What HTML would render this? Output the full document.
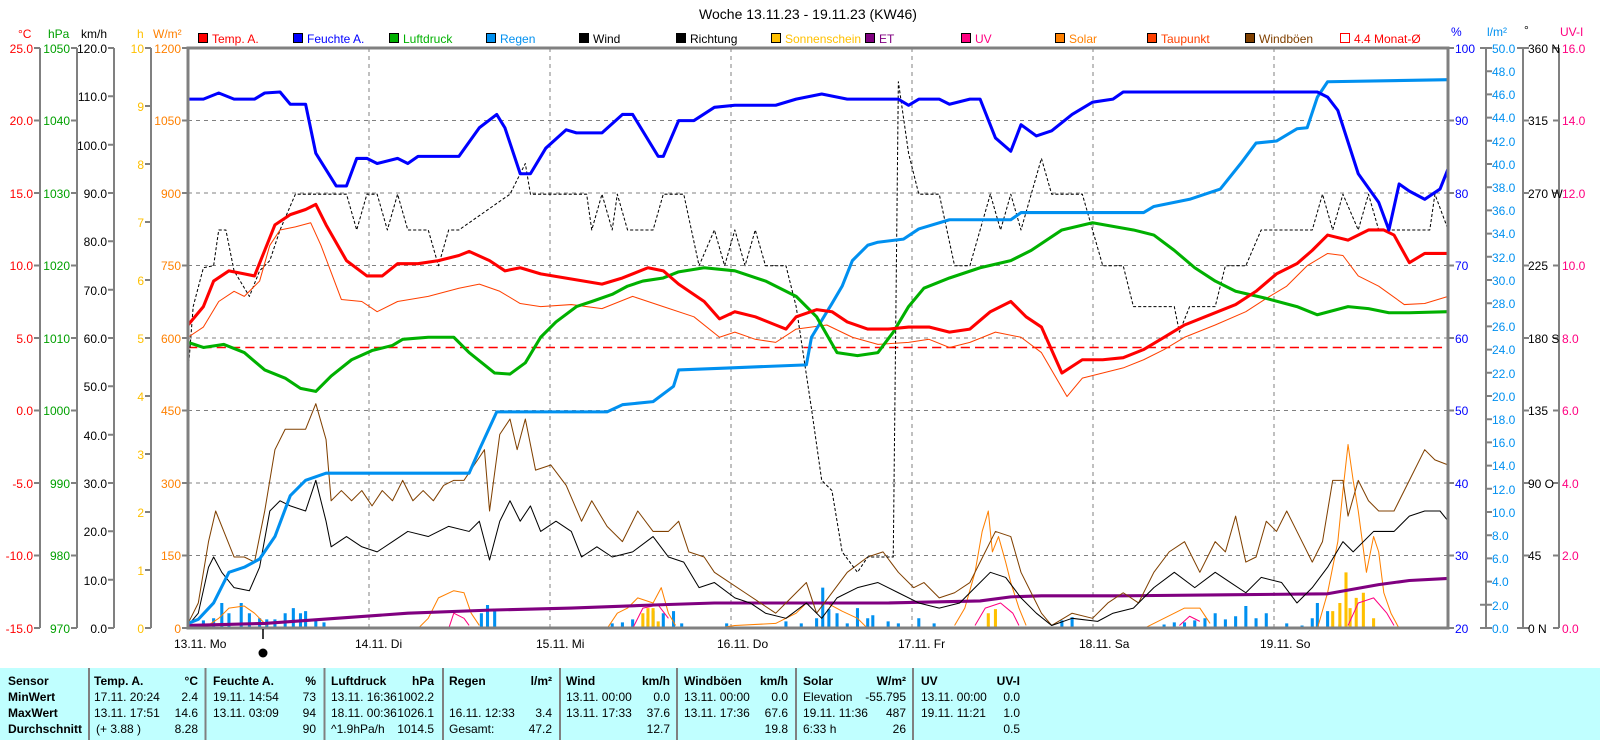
<!DOCTYPE html>
<html><head><meta charset="utf-8"><style>
html,body{margin:0;padding:0;background:#fff;}
svg{display:block;font-family:"Liberation Sans",sans-serif;}
</style></head><body>
<svg width="1600" height="740" viewBox="0 0 1600 740" xmlns="http://www.w3.org/2000/svg">
<rect width="1600" height="740" fill="#fff"/>
<text x="808" y="19" font-size="14" text-anchor="middle" fill="#000">Woche 13.11.23 - 19.11.23 (KW46)</text>

<g stroke="#808080" stroke-width="1" stroke-dasharray="4,4" fill="none">
<line x1="188" y1="120.5" x2="1448" y2="120.5"/><line x1="188" y1="193" x2="1448" y2="193"/>
<line x1="188" y1="265.5" x2="1448" y2="265.5"/><line x1="188" y1="338" x2="1448" y2="338"/>
<line x1="188" y1="410.5" x2="1448" y2="410.5"/><line x1="188" y1="483" x2="1448" y2="483"/>
<line x1="188" y1="555.5" x2="1448" y2="555.5"/>
<line x1="369" y1="48" x2="369" y2="628"/><line x1="550" y1="48" x2="550" y2="628"/>
<line x1="731" y1="48" x2="731" y2="628"/><line x1="912" y1="48" x2="912" y2="628"/>
<line x1="1093" y1="48" x2="1093" y2="628"/><line x1="1274" y1="48" x2="1274" y2="628"/>
</g>

<g transform="translate(-1,0) scale(1.022)" fill="none" stroke-linejoin="round">
<line x1="185" y1="340" x2="1417" y2="340" stroke="#ff0000" stroke-width="1.5" stroke-dasharray="9,5"/>
<g stroke="#0090f0" stroke-width="3">
<path d="M200 615V607M210 615V605M218 615V590M225 615V600M237 615V590M245 615V600M255 615V605M262 615V606M270 615V606M280 615V600M288 615V595M295 615V600M300 615V598M310 615V607M318 615V609M472 615V600M478 615V592M485 615V596M600 615V610M610 615V609M620 615V606M635 615V605M640 615V598M650 615V600M660 615V598M668 615V610M712 615V610M770 615V608M785 615V610M800 615V605M806 615V575M812 615V596M820 615V600M830 615V610M840 615V595M850 615V605M855 615V602M870 615V608M880 615V610M900 615V605M915 615V610M1040 615V607M1050 615V604M1140 615V611M1150 615V609M1160 615V609M1170 615V607M1180 615V605M1190 615V600M1200 615V606M1210 615V603M1220 615V593M1230 615V605M1240 615V600M1260 615V610M1275 615V612M1285 615V605M1290 615V590M1300 615V598M1312 615V611"/>
</g>
<g stroke="#ffc000" stroke-width="3">
<path d="M630 615V600M635 615V595M640 615V595M645 615V608M1305 615V598M1312 615V590M1318 615V560M1322 615V595M1328 615V585M1335 615V580M1345 615V605M968 615V600M975 615V596"/>
</g>
<g stroke="#ff8000" stroke-width="1">
<polyline points="200,615 215,605 225,595 240,593 250,600 262,612"/>
<polyline points="410,615 420,605 430,585 445,578 455,580 462,600 470,612"/>
<polyline points="595,615 605,600 615,595 625,585 640,590 648,575 655,600 662,612"/>
<polyline points="700,615 720,612 760,610 780,600 790,590 810,590 825,598 840,605 850,615"/>
<polyline points="935,612 945,595 955,560 962,520 968,500 972,540 978,525 985,550 990,570 998,595 1005,612"/>
<polyline points="1120,615 1140,605 1160,595 1175,595 1185,610"/>
<polyline points="1290,615 1300,580 1310,530 1315,480 1320,435 1325,470 1330,500 1338,560 1345,525 1350,540 1355,580 1362,600 1370,615"/>
</g>
<g stroke="#ff0080" stroke-width="1">
<polyline points="440,615 445,600 455,605 460,612"/>
<polyline points="620,615 630,595 645,592 655,605"/>
<polyline points="955,612 965,595 980,590 992,600 998,612"/>
<polyline points="1155,612 1165,603 1175,608"/>
<polyline points="1320,612 1330,590 1345,585 1358,600 1365,612"/>
</g>
<polyline stroke="#800080" stroke-width="3" points="185,612 260,610 330,605 400,600 480,597 560,595 640,592 700,590 780,590 870,590 960,588 990,584 1020,583 1100,583 1200,582 1300,581 1350,572 1380,568 1418,566"/>
<polyline stroke="#804000" stroke-width="1" points="185,610 195,590 205,530 212,500 220,520 230,545 240,545 250,550 260,500 270,440 280,420 290,420 300,420 310,395 320,430 325,490 335,480 345,490 355,480 365,495 375,480 385,490 395,470 405,490 415,480 425,490 435,475 445,470 455,470 465,455 475,440 480,500 490,425 500,410 507,440 515,410 525,460 540,455 555,475 570,510 580,490 595,515 610,530 625,500 640,520 655,520 665,510 675,540 690,545 700,560 715,570 730,580 745,590 760,600 775,585 790,570 800,600 815,580 830,560 850,545 865,540 880,560 895,575 905,570 920,585 935,580 950,570 965,540 975,520 990,525 1000,560 1010,580 1020,600 1030,612 1050,600 1070,605 1085,590 1100,580 1115,590 1130,560 1145,540 1160,530 1175,560 1190,530 1200,540 1210,505 1220,550 1230,545 1240,510 1250,520 1260,500 1270,520 1285,550 1295,530 1305,470 1315,470 1320,505 1330,470 1340,490 1350,500 1365,500 1380,470 1395,440 1405,450 1418,455"/>
<polyline stroke="#000" stroke-width="1" points="185,612 195,600 205,555 210,545 218,560 230,575 245,578 255,555 265,500 275,490 285,495 300,500 310,470 320,510 325,535 340,525 355,535 370,540 385,530 400,520 420,525 440,515 460,520 470,510 480,548 490,510 500,490 510,510 520,495 530,520 545,510 560,520 570,545 585,535 600,545 620,540 640,525 655,545 670,550 685,575 700,570 720,585 735,590 750,600 770,605 790,590 805,605 820,585 840,575 860,570 880,580 900,590 920,595 940,590 955,575 970,560 985,565 1000,585 1015,600 1030,612 1050,605 1075,608 1090,600 1110,595 1130,575 1150,560 1170,575 1190,560 1205,570 1220,580 1235,565 1255,570 1270,590 1285,575 1300,555 1315,530 1325,540 1345,520 1365,520 1380,505 1395,500 1410,500 1418,510"/>
<polyline stroke="#000" stroke-width="1" stroke-dasharray="3,2" points="185,365 190,300 200,262 210,260 215,225 222,225 230,265 245,290 255,265 265,255 275,225 290,190 330,190 340,190 350,225 360,190 370,190 380,225 390,190 400,225 420,225 430,260 440,225 450,225 500,190 515,160 520,190 575,190 580,225 590,190 600,225 605,190 615,225 640,225 650,190 670,190 685,260 700,225 710,260 720,225 730,260 740,225 750,260 770,260 780,300 795,400 805,470 815,480 825,540 840,560 850,545 875,545 880,80 890,150 900,190 920,190 935,260 950,260 960,225 970,190 980,225 990,190 1000,225 1010,190 1020,155 1030,190 1060,190 1080,260 1100,260 1110,300 1150,300 1155,325 1165,300 1190,300 1200,260 1220,260 1235,225 1285,225 1295,190 1305,225 1315,190 1330,225 1340,190 1350,225 1400,225 1405,190 1418,225"/>
<polyline stroke="#ff4000" stroke-width="1" points="185,330 200,320 215,295 230,285 240,290 255,275 265,240 275,225 290,222 305,218 315,240 335,293 355,295 370,305 390,295 420,290 450,282 470,278 490,285 510,297 530,300 560,298 590,302 620,290 650,300 680,310 705,330 720,325 740,332 760,335 780,322 810,318 835,330 860,337 890,335 910,332 930,340 950,335 975,325 1000,330 1020,345 1045,388 1060,370 1080,365 1100,360 1120,352 1140,342 1160,330 1190,318 1220,305 1240,292 1260,280 1280,260 1300,248 1315,250 1330,270 1350,280 1375,298 1395,297 1418,290"/>
<polyline stroke="#0090f0" stroke-width="3" points="185,610 195,606 210,590 225,560 240,555 255,547 270,525 285,485 300,470 320,463 460,463 470,440 487,403 595,403 610,396 640,393 660,378 665,362 715,360 790,357 795,330 815,297 825,280 835,255 850,240 860,237 885,234 900,224 930,215 990,215 1000,208 1120,208 1130,202 1165,195 1195,185 1215,160 1230,140 1250,138 1270,126 1280,125 1290,95 1300,80 1418,78"/>
<polyline stroke="#00b000" stroke-width="3" points="185,335 200,340 220,337 240,345 260,362 280,370 295,380 310,383 325,368 345,352 365,343 385,338 395,332 420,330 445,330 460,345 485,365 500,366 515,355 530,330 545,315 565,300 580,295 600,288 615,280 630,275 650,272 665,266 690,262 720,265 750,275 780,290 800,310 820,345 840,348 860,345 875,325 890,300 905,282 930,272 960,262 990,255 1010,245 1040,225 1070,218 1110,225 1130,230 1150,245 1170,262 1190,275 1210,285 1240,292 1270,300 1290,308 1320,300 1340,302 1360,306 1380,306 1418,305"/>
<polyline stroke="#ff0000" stroke-width="3" points="185,318 200,300 210,275 225,265 240,268 250,270 260,245 270,220 285,210 300,205 310,200 320,220 340,255 360,270 375,270 390,258 410,258 430,255 450,250 460,246 480,255 495,265 510,262 530,268 560,273 590,278 610,272 635,262 650,265 665,278 690,295 705,312 720,305 740,310 760,318 770,322 780,310 800,303 815,305 830,315 850,322 870,322 890,320 910,320 930,325 950,322 970,305 990,295 1005,310 1020,320 1040,365 1060,352 1080,352 1100,350 1120,342 1140,330 1160,318 1180,310 1210,298 1230,285 1250,268 1270,258 1285,245 1300,230 1320,235 1340,225 1355,225 1365,230 1380,257 1395,248 1418,248"/>
<polyline stroke="#0000ff" stroke-width="3" points="185,97 200,97 215,91 230,97 250,97 260,91 275,90 285,102 300,102 310,150 330,182 340,182 350,155 360,155 370,160 390,155 400,160 410,153 450,153 470,125 487,112 495,125 510,170 520,170 535,145 555,127 565,130 590,130 610,112 620,112 645,153 650,153 665,118 680,118 700,105 720,103 760,103 780,97 805,92 830,97 880,97 890,103 900,97 920,97 930,102 950,97 960,97 975,135 990,148 1000,122 1015,133 1030,128 1050,112 1070,100 1090,97 1100,90 1290,90 1300,95 1310,108 1330,170 1350,198 1360,225 1370,180 1380,187 1395,195 1410,185 1418,165"/>
</g>

<rect x="188" y="48" width="1260" height="580" fill="none" stroke="#808080" stroke-width="3"/>

<g stroke="#808080" stroke-width="2" fill="none">
<path d="M40 48V628M77 48V628M114 48V628M151 48V628"/>
<path d="M34 48H40M34 120.5H40M34 193H40M34 265.5H40M34 338H40M34 410.5H40M34 483H40M34 555.5H40M34 628H40"/>
<path d="M71 48H77M71 120.5H77M71 193H77M71 265.5H77M71 338H77M71 410.5H77M71 483H77M71 555.5H77M71 628H77"/>
<path d="M108 48H114M108 96.3H114M108 144.7H114M108 193H114M108 241.3H114M108 289.7H114M108 338H114M108 386.3H114M108 434.7H114M108 483H114M108 531.3H114M108 579.7H114M108 628H114"/>
<path d="M145 48H151M145 106H151M145 164H151M145 222H151M145 280H151M145 338H151M145 396H151M145 454H151M145 512H151M145 570H151M145 628H151"/>
<path d="M182 48H188M182 120.5H188M182 193H188M182 265.5H188M182 338H188M182 410.5H188M182 483H188M182 555.5H188M182 628H188"/>
<path d="M1448 48H1454M1448 120.5H1454M1448 193H1454M1448 265.5H1454M1448 338H1454M1448 410.5H1454M1448 483H1454M1448 555.5H1454M1448 628H1454"/>
<path d="M1486 48V628M1523 48V628M1559 48V628"/>
<path d="M1480 48H1492M1486 71.2H1492M1486 94.4H1492M1486 117.6H1492M1486 140.8H1492M1486 164H1492M1486 187.2H1492M1486 210.4H1492M1486 233.6H1492M1486 256.8H1492M1486 280H1492M1486 303.2H1492M1486 326.4H1492M1486 349.6H1492M1486 372.8H1492M1486 396H1492M1486 419.2H1492M1486 442.4H1492M1486 465.6H1492M1486 488.8H1492M1486 512H1492M1486 535.2H1492M1486 558.4H1492M1486 581.6H1492M1480 604.8H1492M1480 628H1492"/>
<path d="M1517 48H1529M1523 120.5H1529M1523 193H1529M1523 265.5H1529M1523 338H1529M1523 410.5H1529M1523 483H1529M1523 555.5H1529M1517 628H1529"/>
<path d="M1553 48H1559M1553 120.5H1559M1553 193H1559M1553 265.5H1559M1553 338H1559M1553 410.5H1559M1553 483H1559M1553 555.5H1559M1553 628H1559"/>
</g>
<g font-size="12">
<g fill="#ff0000" text-anchor="end"><text x="33" y="53">25.0</text><text x="33" y="125">20.0</text><text x="33" y="198">15.0</text><text x="33" y="270">10.0</text><text x="33" y="343">5.0</text><text x="33" y="415">0.0</text><text x="33" y="488">-5.0</text><text x="33" y="560">-10.0</text><text x="33" y="633">-15.0</text></g>
<g fill="#00a000" text-anchor="end"><text x="70" y="53">1050</text><text x="70" y="125">1040</text><text x="70" y="198">1030</text><text x="70" y="270">1020</text><text x="70" y="343">1010</text><text x="70" y="415">1000</text><text x="70" y="488">990</text><text x="70" y="560">980</text><text x="70" y="633">970</text></g>
<g fill="#000" text-anchor="end"><text x="107" y="53">120.0</text><text x="107" y="101">110.0</text><text x="107" y="150">100.0</text><text x="107" y="198">90.0</text><text x="107" y="246">80.0</text><text x="107" y="295">70.0</text><text x="107" y="343">60.0</text><text x="107" y="391">50.0</text><text x="107" y="440">40.0</text><text x="107" y="488">30.0</text><text x="107" y="536">20.0</text><text x="107" y="585">10.0</text><text x="107" y="633">0.0</text></g>
<g fill="#ffc000" text-anchor="end"><text x="144" y="53">10</text><text x="144" y="111">9</text><text x="144" y="169">8</text><text x="144" y="227">7</text><text x="144" y="285">6</text><text x="144" y="343">5</text><text x="144" y="401">4</text><text x="144" y="459">3</text><text x="144" y="517">2</text><text x="144" y="575">1</text><text x="144" y="633">0</text></g>
<g fill="#ff8000" text-anchor="end"><text x="181" y="53">1200</text><text x="181" y="125">1050</text><text x="181" y="198">900</text><text x="181" y="270">750</text><text x="181" y="343">600</text><text x="181" y="415">450</text><text x="181" y="488">300</text><text x="181" y="560">150</text><text x="181" y="633">0</text></g>
<g fill="#0000ff"><text x="1455" y="53">100</text><text x="1455" y="125">90</text><text x="1455" y="198">80</text><text x="1455" y="270">70</text><text x="1455" y="343">60</text><text x="1455" y="415">50</text><text x="1455" y="488">40</text><text x="1455" y="560">30</text><text x="1455" y="633">20</text></g>
<g fill="#0090f0"><text x="1492" y="53">50.0</text><text x="1492" y="76">48.0</text><text x="1492" y="99">46.0</text><text x="1492" y="122">44.0</text><text x="1492" y="146">42.0</text><text x="1492" y="169">40.0</text><text x="1492" y="192">38.0</text><text x="1492" y="215">36.0</text><text x="1492" y="238">34.0</text><text x="1492" y="262">32.0</text><text x="1492" y="285">30.0</text><text x="1492" y="308">28.0</text><text x="1492" y="331">26.0</text><text x="1492" y="354">24.0</text><text x="1492" y="378">22.0</text><text x="1492" y="401">20.0</text><text x="1492" y="424">18.0</text><text x="1492" y="447">16.0</text><text x="1492" y="470">14.0</text><text x="1492" y="494">12.0</text><text x="1492" y="517">10.0</text><text x="1492" y="540">8.0</text><text x="1492" y="563">6.0</text><text x="1492" y="586">4.0</text><text x="1492" y="610">2.0</text><text x="1492" y="633">0.0</text></g>
<g fill="#000"><text x="1528" y="53">360 N</text><text x="1528" y="125">315</text><text x="1528" y="198">270 W</text><text x="1528" y="270">225</text><text x="1528" y="343">180 S</text><text x="1528" y="415">135</text><text x="1528" y="488">90 O</text><text x="1528" y="560">45</text><text x="1528" y="633">0 N</text></g>
<g fill="#ff0080"><text x="1562" y="53">16.0</text><text x="1562" y="125">14.0</text><text x="1562" y="198">12.0</text><text x="1562" y="270">10.0</text><text x="1562" y="343">8.0</text><text x="1562" y="415">6.0</text><text x="1562" y="488">4.0</text><text x="1562" y="560">2.0</text><text x="1562" y="633">0.0</text></g>
<text x="18" y="38" fill="#ff0000">°C</text><text x="48" y="38" fill="#00a000">hPa</text><text x="81" y="38" fill="#000">km/h</text>
<text x="137" y="38" fill="#ffc000">h</text><text x="153" y="38" fill="#ff8000">W/m²</text>
<text x="1451" y="36" fill="#0000ff">%</text><text x="1487" y="36" fill="#0090f0">l/m²</text><text x="1524" y="34" fill="#000">°</text><text x="1560" y="36" fill="#ff0080">UV-I</text>
<g stroke="#000" stroke-width="1">
<rect x="198.5" y="33.5" width="9" height="9" fill="#ff0000"/><rect x="293.5" y="33.5" width="9" height="9" fill="#0000ff"/>
<rect x="389.5" y="33.5" width="9" height="9" fill="#00b000"/><rect x="486.5" y="33.5" width="9" height="9" fill="#0090f0"/>
<rect x="579.5" y="33.5" width="9" height="9" fill="#000"/><rect x="676.5" y="33.5" width="9" height="9" fill="#000"/>
<rect x="771.5" y="33.5" width="9" height="9" fill="#ffc000"/><rect x="865.5" y="33.5" width="9" height="9" fill="#800080"/>
<rect x="961.5" y="33.5" width="9" height="9" fill="#ff0080"/><rect x="1055.5" y="33.5" width="9" height="9" fill="#ff8000"/>
<rect x="1147.5" y="33.5" width="9" height="9" fill="#ff4000"/><rect x="1245.5" y="33.5" width="9" height="9" fill="#804000"/>
<rect x="1340.5" y="33.5" width="9" height="9" fill="#fff" stroke="#ff0000"/>
</g>
<text x="212" y="43" fill="#ff0000">Temp. A.</text><text x="307" y="43" fill="#0000ff">Feuchte A.</text>
<text x="403" y="43" fill="#00b000">Luftdruck</text><text x="500" y="43" fill="#0090f0">Regen</text>
<text x="593" y="43" fill="#000">Wind</text><text x="690" y="43" fill="#000">Richtung</text>
<text x="785" y="43" fill="#ffc000">Sonnenschein</text><text x="879" y="43" fill="#800080">ET</text>
<text x="975" y="43" fill="#ff0080">UV</text><text x="1069" y="43" fill="#ff8000">Solar</text>
<text x="1161" y="43" fill="#ff4000">Taupunkt</text><text x="1259" y="43" fill="#804000">Windböen</text>
<text x="1354" y="43" fill="#ff0000">4.4 Monat-Ø</text>
<g fill="#000"><text x="174" y="648">13.11.  Mo</text><text x="355" y="648">14.11.  Di</text><text x="536" y="648">15.11.  Mi</text><text x="717" y="648">16.11.  Do</text><text x="898" y="648">17.11.  Fr</text><text x="1079" y="648">18.11.  Sa</text><text x="1260" y="648">19.11.  So</text></g>
</g>
<line x1="263" y1="629" x2="263" y2="639" stroke="#000" stroke-width="1.5"/>
<circle cx="263" cy="653" r="4.5" fill="#000"/>

<rect x="0" y="668" width="1600" height="72" fill="#c0ffff"/>
<g stroke="#808080" stroke-width="2"><path d="M89 668V740M205.5 668V740M324.5 668V740M443 668V740M560 668V740M677 668V740M796 668V740M913 668V740"/></g>
<g font-size="12" fill="#000">
<g font-weight="bold"><text x="8" y="685">Sensor</text><text x="8" y="701">MinWert</text><text x="8" y="717">MaxWert</text><text x="8" y="733">Durchschnitt</text>
<text x="94" y="685">Temp. A.</text><text x="213" y="685">Feuchte A.</text><text x="331" y="685">Luftdruck</text><text x="449" y="685">Regen</text><text x="566" y="685">Wind</text><text x="684" y="685">Windböen</text><text x="803" y="685">Solar</text><text x="921" y="685">UV</text>
<g text-anchor="end"><text x="198" y="685">°C</text><text x="316" y="685">%</text><text x="434" y="685">hPa</text><text x="552" y="685">l/m²</text><text x="670" y="685">km/h</text><text x="788" y="685">km/h</text><text x="906" y="685">W/m²</text><text x="1020" y="685">UV-I</text></g></g>
<text x="94" y="701">17.11.  20:24</text><text x="94" y="717">13.11.  17:51</text><text x="96" y="733">(+ 3.88 )</text>
<text x="213" y="701">19.11.  14:54</text><text x="213" y="717">13.11.  03:09</text>
<text x="331" y="701">13.11. 16:36</text><text x="331" y="717">18.11. 00:36</text><text x="331" y="733">^1.9hPa/h</text>
<text x="449" y="717">16.11.  12:33</text><text x="449" y="733">Gesamt:</text>
<text x="566" y="701">13.11.  00:00</text><text x="566" y="717">13.11.  17:33</text>
<text x="684" y="701">13.11.  00:00</text><text x="684" y="717">13.11.  17:36</text>
<text x="803" y="701">Elevation</text><text x="803" y="717">19.11.  11:36</text><text x="803" y="733">6:33 h</text>
<text x="921" y="701">13.11.  00:00</text><text x="921" y="717">19.11.  11:21</text>
<g text-anchor="end">
<text x="198" y="701">2.4</text><text x="198" y="717">14.6</text><text x="198" y="733">8.28</text>
<text x="316" y="701">73</text><text x="316" y="717">94</text><text x="316" y="733">90</text>
<text x="434" y="701">1002.2</text><text x="434" y="717">1026.1</text><text x="434" y="733">1014.5</text>
<text x="552" y="717">3.4</text><text x="552" y="733">47.2</text>
<text x="670" y="701">0.0</text><text x="670" y="717">37.6</text><text x="670" y="733">12.7</text>
<text x="788" y="701">0.0</text><text x="788" y="717">67.6</text><text x="788" y="733">19.8</text>
<text x="906" y="701">-55.795</text><text x="906" y="717">487</text><text x="906" y="733">26</text>
<text x="1020" y="701">0.0</text><text x="1020" y="717">1.0</text><text x="1020" y="733">0.5</text>
</g></g>
</svg>
</body></html>
